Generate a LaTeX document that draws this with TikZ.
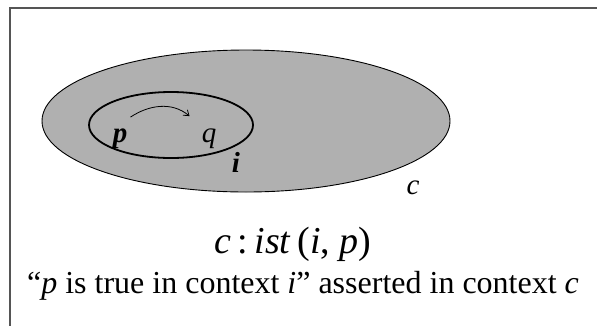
\documentclass[tikz,border=0pt]{standalone}
\usepackage{fontspec}
\setmainfont{Liberation Serif}
\usetikzlibrary{arrows.meta,positioning}
\definecolor{Ink}{HTML}{000000}
\definecolor{Frame}{HTML}{555555}
\definecolor{Shade}{HTML}{B0B0B0}
\tikzset{
  lbl/.style={Ink,inner sep=0pt,anchor=base,font=\fontsize{29}{34}\selectfont},
  ctx/.style={Ink,draw,line width=0.9pt},
}

\begin{document}
\begin{tikzpicture}[x=1pt,y=-1pt,>={Straight Barb[length=5pt,width=7pt]}]
  \useasboundingbox (0,0) rectangle (597,325);
  \clip (0,0) rectangle (597,325);
  \draw[Frame,line width=1.6pt] (10,8) rectangle (660,380);
  % the two contexts
  \path[ctx,fill=Shade] (246,121) ellipse [x radius=204, y radius=71];
  \path[ctx,line width=1.8pt] (171,125) ellipse [x radius=82, y radius=33];
  \node[lbl] (p) at (120,142) {\textbf{\textit{p}}};
  \node[lbl] (q) at (209,142) {\textit{q}};
  \node[lbl] (i) at (236,172) {\textbf{\textit{i}}};
  \node[lbl] (c) at (413,194) {\textit{c}};
  \draw[->,line width=0.8pt] ([shift={(3,-11)}]p.north east)
    .. controls +(18,-12) and +(-18,-15) .. ([shift={(-12,-12)}]q.north west);
  % formula and its reading
  \node[lbl,font=\fontsize{38}{44}\selectfont] (f) at (293,253)
    {\textit{c}\,:\,\textit{ist}\,(\textit{i}, \textit{p})};
  \node[lbl,font=\fontsize{32}{38}\selectfont] (r) at (303,293)
    {“\textit{p} is true in context \textit{i}” asserted in context \textit{c}};
\end{tikzpicture}
\end{document}
